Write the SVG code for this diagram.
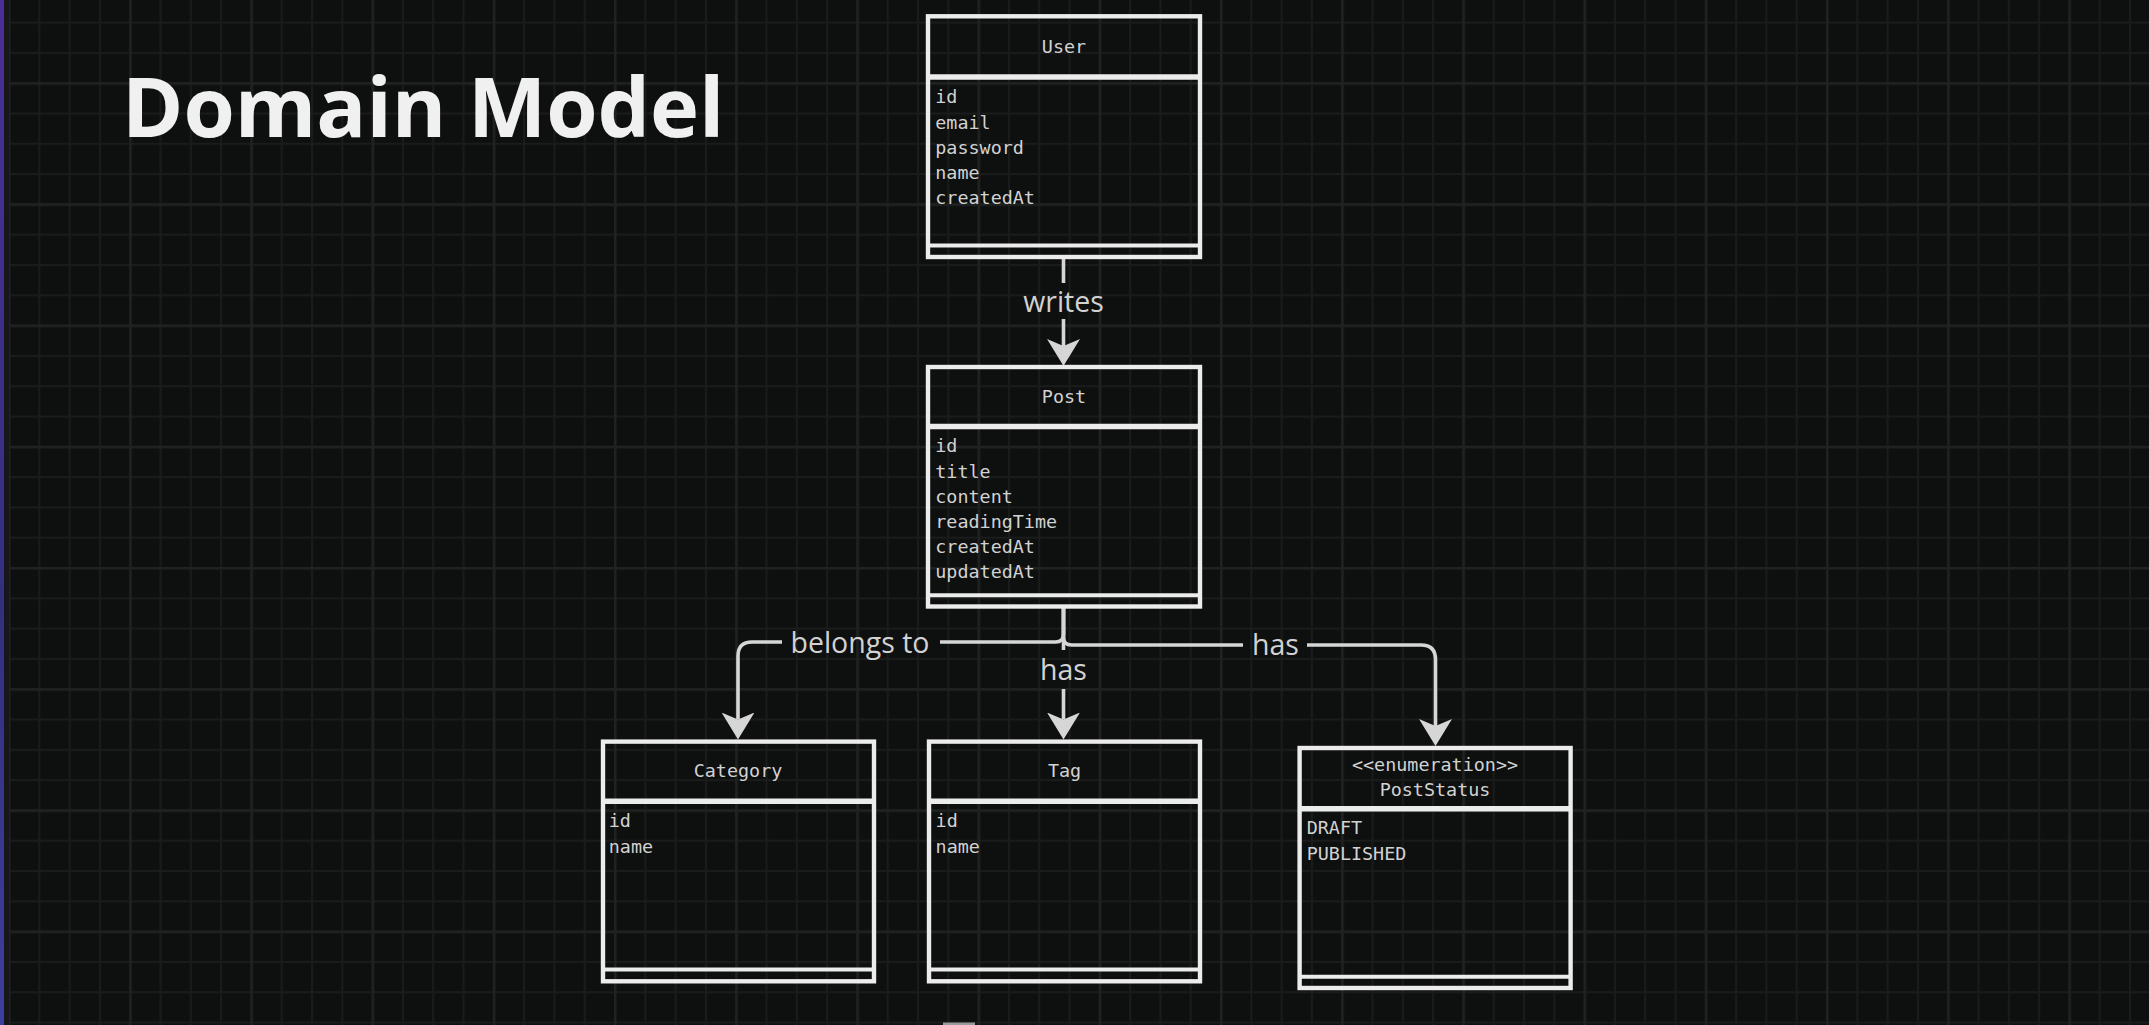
<svg xmlns="http://www.w3.org/2000/svg" width="2149" height="1025" viewBox="0 0 2149 1025">
  <defs>
    <style>
      .frame { fill: none; stroke: #ececec; stroke-width: 4.4; }
      .sep { stroke: #ececec; stroke-width: 5.5; }
      .rule { stroke: #ececec; stroke-width: 4; }
      .title { font-family: "DejaVu Sans Mono", "Liberation Mono", monospace; font-size: 18.4px; fill: #d2d2d2; text-anchor: middle; }
      .attr { font-family: "DejaVu Sans Mono", "Liberation Mono", monospace; font-size: 18.4px; fill: #d2d2d2; }
      .edge { fill: none; stroke: #d6d6d6; stroke-width: 3.6; }
      .label { font-family: "Open Sans", "Noto Sans", sans-serif; font-size: 28.5px; fill: #d2d2d2; text-anchor: middle; }
      .heading { font-family: "Open Sans", "Noto Sans", sans-serif; font-weight: 700; font-size: 83px; fill: #f0f0f0; }
    </style>
    <pattern id="gridMinor" patternUnits="userSpaceOnUse" x="8" y="21.6" width="30.3" height="30.3">
      <rect x="0" y="0" width="2" height="30.3" fill="#1a1b1b"/>
      <rect x="0" y="0" width="30.3" height="2" fill="#1a1b1b"/>
    </pattern>
    <pattern id="gridMajor" patternUnits="userSpaceOnUse" x="8" y="82.2" width="121.2" height="121.2">
      <rect x="0" y="0" width="2.5" height="121.2" fill="#202121"/>
      <rect x="0" y="0" width="121.2" height="2.5" fill="#202121"/>
    </pattern>
    <linearGradient id="edgeStrip" x1="0" y1="0" x2="0" y2="1">
      <stop offset="0" stop-color="#4a2f96"/>
      <stop offset="0.6" stop-color="#33307f"/>
      <stop offset="1" stop-color="#3c3f9c"/>
    </linearGradient>
    <marker id="arrow" markerUnits="userSpaceOnUse" markerWidth="27" markerHeight="33" viewBox="0 0 27 33" refX="7" refY="16.5" orient="auto">
      <path d="M0,0 L27,16.5 L0,33 L7,16.5 Z" fill="#d6d6d6"/>
    </marker>
  </defs>

  <!-- canvas and grid -->
  <rect x="0" y="0" width="2149" height="1025" fill="#0e0f0f"/>
  <rect x="0" y="0" width="2149" height="1025" fill="url(#gridMinor)"/>
  <rect x="0" y="0" width="2149" height="1025" fill="url(#gridMajor)"/>
  <rect x="4" y="0" width="5" height="1025" fill="#17171b"/>
  <rect x="0" y="0" width="4" height="1025" fill="url(#edgeStrip)"/>
  <rect x="943" y="1022.5" width="32" height="2.5" fill="#9a9a9a"/>

  <text class="heading" x="122" y="137">Domain Model</text>

  <!-- connectors -->
  <g id="connectors">
    <g id="edge-writes">
      <path class="edge" d="M1063.5,259 V283"/>
      <path class="edge" d="M1063.5,319 V346" marker-end="url(#arrow)"/>
      <text class="label" x="1063.5" y="311.5">writes</text>
    </g>
    <g id="edge-belongs-to">
      <path class="edge" d="M1063.5,608 V634 Q1063.5,642 1055.5,642 H940"/>
      <path class="edge" d="M782,642 H752 Q738,642 738,656 V719.5" marker-end="url(#arrow)"/>
      <text class="label" x="860" y="652.5">belongs to</text>
    </g>
    <g id="edge-has-tag">
      <path class="edge" d="M1063.5,608 V650"/>
      <path class="edge" d="M1063.5,689 V719.5" marker-end="url(#arrow)"/>
      <text class="label" x="1063.5" y="680">has</text>
    </g>
    <g id="edge-has-status">
      <path class="edge" d="M1063.5,608 V637 Q1063.5,645 1071.5,645 H1243"/>
      <path class="edge" d="M1307,645 H1421 Q1435.5,645 1435.5,659.5 V726" marker-end="url(#arrow)"/>
      <text class="label" x="1275.5" y="655">has</text>
    </g>
  </g>

  <!-- class boxes -->
  <g id="node-user">
    <rect class="frame" x="928" y="16.3" width="272" height="240.7"/>
    <line class="sep" x1="928" y1="77" x2="1200" y2="77"/>
    <line class="rule" x1="928" y1="245.5" x2="1200" y2="245.5"/>
    <text class="title" x="1064" y="52.7">User</text>
    <text class="attr" x="935.3" y="103.3">id</text>
    <text class="attr" x="935.3" y="128.5">email</text>
    <text class="attr" x="935.3" y="153.7">password</text>
    <text class="attr" x="935.3" y="178.9">name</text>
    <text class="attr" x="935.3" y="204.1">createdAt</text>
  </g>

  <g id="node-post">
    <rect class="frame" x="928" y="367" width="272" height="239.5"/>
    <line class="sep" x1="928" y1="426.4" x2="1200" y2="426.4"/>
    <line class="rule" x1="928" y1="595.3" x2="1200" y2="595.3"/>
    <text class="title" x="1064" y="402.7">Post</text>
    <text class="attr" x="935.3" y="452.3">id</text>
    <text class="attr" x="935.3" y="477.5">title</text>
    <text class="attr" x="935.3" y="502.7">content</text>
    <text class="attr" x="935.3" y="527.9">readingTime</text>
    <text class="attr" x="935.3" y="553.1">createdAt</text>
    <text class="attr" x="935.3" y="578.3">updatedAt</text>
  </g>

  <g id="node-category">
    <rect class="frame" x="603" y="741.6" width="271" height="239.7"/>
    <line class="sep" x1="603" y1="801.3" x2="874" y2="801.3"/>
    <line class="rule" x1="603" y1="969.5" x2="874" y2="969.5"/>
    <text class="title" x="738" y="777.3">Category</text>
    <text class="attr" x="608.8" y="827.3">id</text>
    <text class="attr" x="608.8" y="852.5">name</text>
  </g>

  <g id="node-tag">
    <rect class="frame" x="929" y="741.6" width="271" height="239.7"/>
    <line class="sep" x1="929" y1="801.3" x2="1200" y2="801.3"/>
    <line class="rule" x1="929" y1="969.5" x2="1200" y2="969.5"/>
    <text class="title" x="1064.5" y="777.3">Tag</text>
    <text class="attr" x="935.6" y="827.3">id</text>
    <text class="attr" x="935.6" y="852.5">name</text>
  </g>

  <g id="node-poststatus">
    <rect class="frame" x="1299.6" y="748" width="271" height="240"/>
    <line class="sep" x1="1299.6" y1="808.7" x2="1570.6" y2="808.7"/>
    <line class="rule" x1="1299.6" y1="976.7" x2="1570.6" y2="976.7"/>
    <text class="title" x="1435" y="770.7">&lt;&lt;enumeration&gt;&gt;</text>
    <text class="title" x="1435" y="796">PostStatus</text>
    <text class="attr" x="1306.7" y="834.3">DRAFT</text>
    <text class="attr" x="1306.7" y="859.5">PUBLISHED</text>
  </g>
</svg>
